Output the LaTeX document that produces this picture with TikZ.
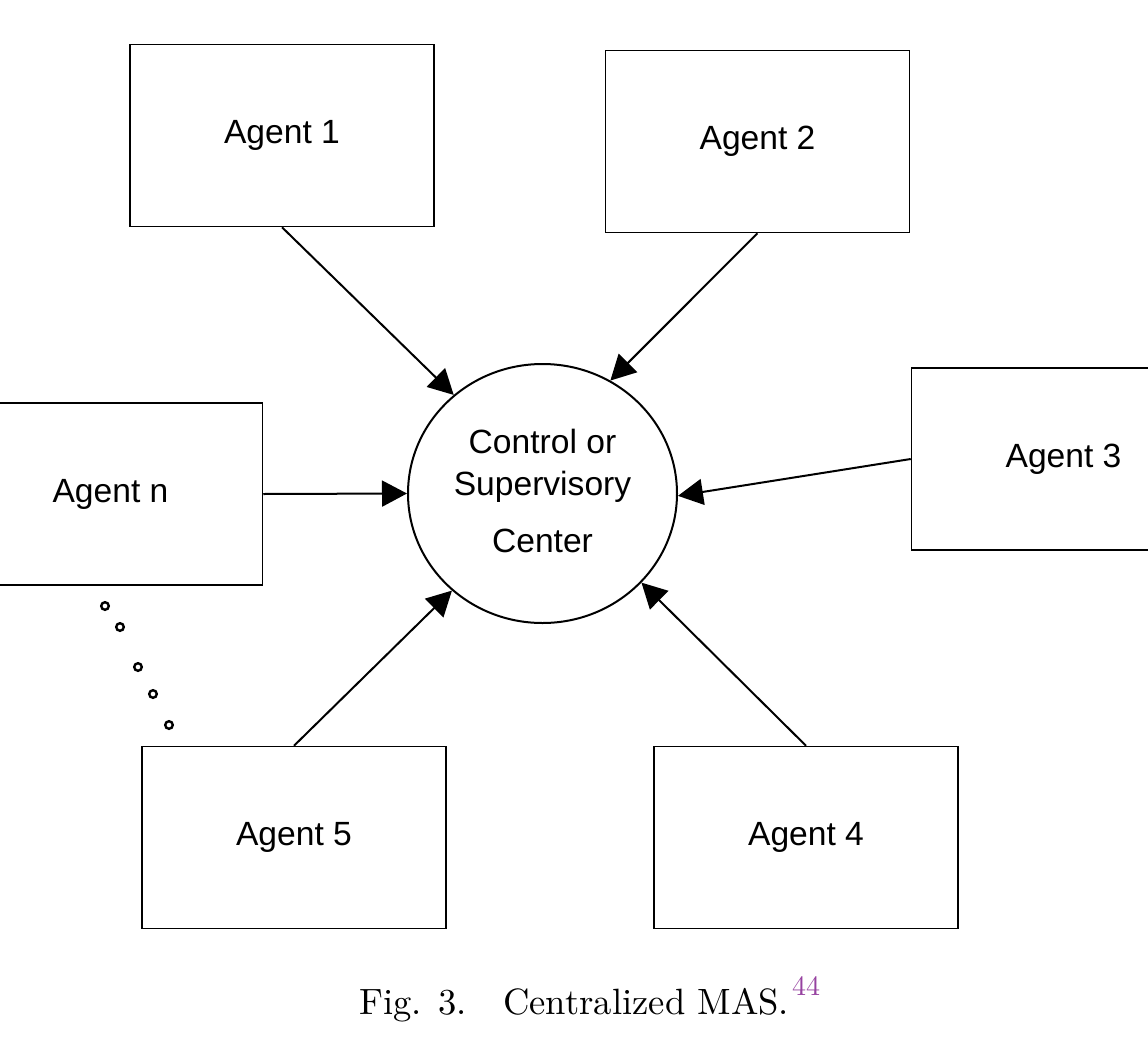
\documentclass[tikz,border=0pt]{standalone}
\usepackage{fontspec}
\setsansfont{Liberation Sans}
\newfontfamily\capfont{lmroman10-regular.otf}
\usetikzlibrary{shapes.geometric,arrows.meta}
\definecolor{citepurple}{RGB}{150,65,160}
\begin{document}
\begin{tikzpicture}[x=0.5pt,y=-0.5pt,
  agent/.style={draw, line width=0.75pt, minimum width=152pt, minimum height=91pt,
    inner sep=0pt, font=\sffamily\fontsize{16.8}{20}\selectfont},
  hub/.style={ellipse, draw, line width=1pt, minimum width=134.5pt, minimum height=129.5pt, inner sep=0pt},
  hubtext/.style={align=center, inner sep=0pt, font=\sffamily\fontsize{16.8}{21}\selectfont},
  arr/.style={-{Triangle[length=12.5pt,width=13pt]}, line width=1pt},
  dotc/.style={circle, draw, line width=1.2pt, minimum size=3.8pt, inner sep=0pt, fill=white}]
\useasboundingbox (0,0) rectangle (1148,1045);
\clip (0,0) rectangle (1148,1045);
\fill[white] (0,0) rectangle (1148,1045);

\node[agent] (a1) at (282,135.5) {Agent 1};
\node[agent] (a2) at (757.5,141.5) {Agent 2};
\node[agent] (a3) at (1063.5,459) {Agent 3};
\node[agent] (an) at (110.5,494) {Agent n};
\node[agent] (a5) at (294,837.5) {Agent 5};
\node[agent] (a4) at (806,837.5) {Agent 4};

\node[hub] (hub) at (542.5,493.5) {};
\node[hubtext] (ht) at ([yshift=1.5pt]hub.center) {Control or\\Supervisory\\[7.5pt]Center};

\draw[arr] (a1.south) -- (hub.132);
\draw[arr] (a2.south) -- (hub.59);
\draw[arr] (a3.west) -- (hub.-1);
\draw[arr] (an.east) -- (hub.180);
\draw[arr] (a5.north) -- (hub.227);
\draw[arr] (a4.north) -- (hub.318);

\node[dotc] (d1) at (105,606) {};
\node[dotc] (d2) at (120,627) {};
\node[dotc] (d3) at (138,667) {};
\node[dotc] (d4) at (153,694) {};
\node[dotc] (d5) at (169,725) {};

\node[anchor=base west, inner sep=0pt, font=\capfont\fontsize{18.3}{22}\selectfont] (cap) at (359,1014.5)
  {Fig. 3.\quad Centralized MAS.\kern1.5pt\raisebox{9.5pt}{\fontsize{14}{16}\selectfont\color{citepurple}44}};
\end{tikzpicture}
\end{document}
